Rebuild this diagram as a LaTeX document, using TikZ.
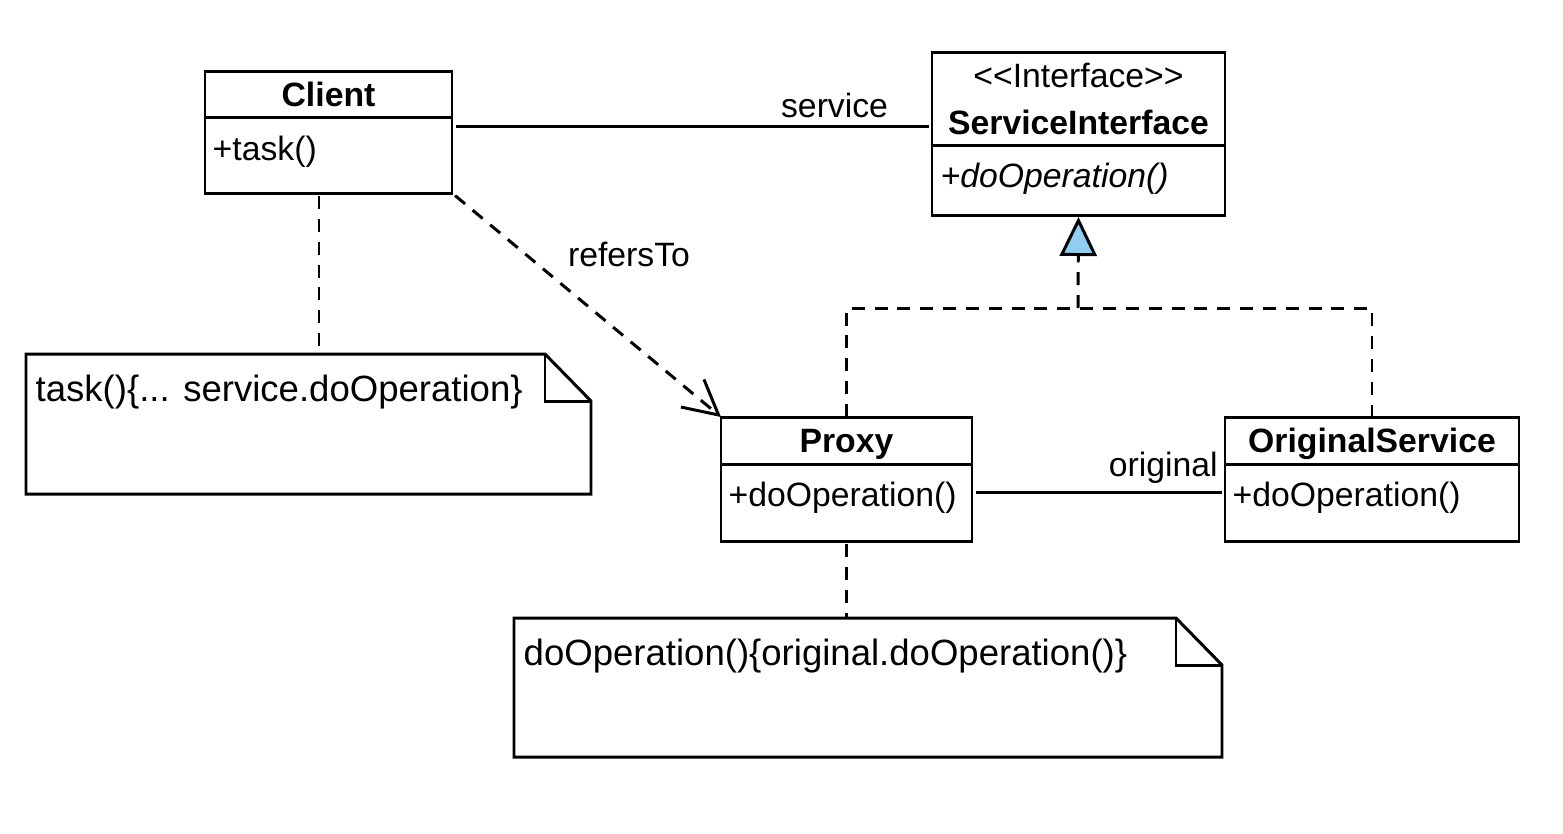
\documentclass[tikz,border=0pt]{standalone}
\usepackage{fontspec}
\setmainfont{Liberation Sans}
\usetikzlibrary{positioning,arrows.meta,calc}
\definecolor{ifblue}{RGB}{145,205,240}
\tikzset{
  uml/.style={draw, line width=0.85pt, inner sep=0pt, outer sep=0pt, font=\fontsize{9.6}{11.5}\selectfont},
  clshead/.style={uml, anchor=north west, text depth=0pt, font=\fontsize{9.6}{13.4}\selectfont\bfseries},
  clsbody/.style={uml},
  member/.style={anchor=west, inner sep=0pt, font=\fontsize{9.6}{11.5}\selectfont},
  notebox/.style={inner sep=0pt, outer sep=0pt, anchor=north west},
  notetext/.style={anchor=west, inner sep=0pt, font=\fontsize{10.4}{12}\selectfont},
  lbl/.style={inner sep=0pt, font=\fontsize{9.6}{11.5}\selectfont},
  dep/.style={line width=0.85pt, dash pattern=on 3.7pt off 2.8pt},
  assoc/.style={line width=0.85pt},
}
\begin{document}
\begin{tikzpicture}[x=1cm, y=-1cm]
  \useasboundingbox (0,0) rectangle (15.63,8.33);
  % classes
  \node[clshead, minimum width=2.47cm, minimum height=0.46cm] (clienth) at (2.05,0.71) {Client};
  \node[clsbody, minimum width=2.47cm, minimum height=0.76cm, below=0pt of clienth] (clientb) {};
  \node[member] (clienttask) at ([xshift=0.07cm, yshift=-0.35cm]clientb.north west) {+task()};

  \node[clshead, minimum width=2.93cm, minimum height=0.93cm, align=center, font=\fontsize{9.6}{13.4}\selectfont] (ifaceh) at (9.32,0.52) {<\kern0pt<Interface>\kern0pt>\\\textbf{ServiceInterface}};
  \node[clsbody, minimum width=2.93cm, minimum height=0.70cm, below=0pt of ifaceh] (ifaceb) {};
  \node[member] (ifaceop) at ([xshift=0.08cm, yshift=-0.34cm]ifaceb.north west) {\itshape +doOperation()};

  \node[clshead, minimum width=2.51cm, minimum height=0.47cm] (proxyh) at (7.21,4.17) {Proxy};
  \node[clsbody, minimum width=2.51cm, minimum height=0.77cm, below=0pt of proxyh] (proxyb) {};
  \node[member] (proxyop) at ([xshift=0.07cm, yshift=-0.34cm]proxyb.north west) {+doOperation()};

  \node[clshead, minimum width=2.94cm, minimum height=0.47cm] (osvch) at (12.25,4.17) {OriginalService};
  \node[clsbody, minimum width=2.94cm, minimum height=0.77cm, below=0pt of osvch] (osvcb) {};
  \node[member] (osvcop) at ([xshift=0.07cm, yshift=-0.34cm]osvcb.north west) {+doOperation()};

  % notes
  \node[notebox, minimum width=5.65cm, minimum height=1.40cm] (note1) at (0.26,3.54) {};
  \draw[assoc] (note1.north west) -- ([xshift=-0.46cm]note1.north east) -- ([yshift=-0.47cm]note1.north east)
    -- (note1.south east) -- (note1.south west) -- cycle;
  \draw[assoc] ([xshift=-0.46cm]note1.north east) |- ([yshift=-0.47cm]note1.north east);
  \node[notetext] (note1txt) at ([xshift=0.09cm, yshift=-0.38cm]note1.north west) {task()\{... service.doOperation\}};

  \node[notebox, minimum width=7.08cm, minimum height=1.39cm] (note2) at (5.14,6.18) {};
  \draw[assoc] (note2.north west) -- ([xshift=-0.46cm]note2.north east) -- ([yshift=-0.47cm]note2.north east)
    -- (note2.south east) -- (note2.south west) -- cycle;
  \draw[assoc] ([xshift=-0.46cm]note2.north east) |- ([yshift=-0.47cm]note2.north east);
  \node[notetext] (note2txt) at ([xshift=0.09cm, yshift=-0.38cm]note2.north west) {doOperation()\{original.doOperation()\}};

  % connectors
  \coordinate (svcL) at ([yshift=-0.09cm]clienth.south east);
  \draw[assoc, shorten <=0.04cm, shorten >=0.03cm] (svcL) -- node[lbl, pos=0.797, yshift=0.21cm] (lblservice) {service} (svcL -| ifaceh.west);

  \coordinate (n1top) at (3.19,3.54);
  \draw[dep, shorten <=0.03cm] (n1top |- clientb.south) -- (n1top);

  \draw[dep, shorten <=0.04cm, -{Straight Barb[length=0.34cm, width=0.36cm]}] (clientb.south east) -- (proxyh.north west);
  \node[lbl] (lblrefers) at (6.29,2.54) {refersTo};

  \coordinate (realjoin) at (10.78,3.08);
  \draw[dep] (proxyh.north) |- (realjoin) -| (osvch.north);
  \draw[dep, shorten >=0.02cm, -{Triangle[length=0.39cm, width=0.37cm, fill=ifblue]}] (realjoin) -- (ifaceb.south);

  \coordinate (origL) at ([yshift=-0.28cm]proxyh.south east);
  \draw[assoc, shorten <=0.04cm, shorten >=0.03cm] (origL) -- node[lbl, pos=0.756, yshift=0.24cm] (lbloriginal) {original} (origL -| osvch.west);

  \draw[dep, shorten <=0.03cm] (proxyb.south) -- (proxyb.south |- note2.north);
\end{tikzpicture}
\end{document}
